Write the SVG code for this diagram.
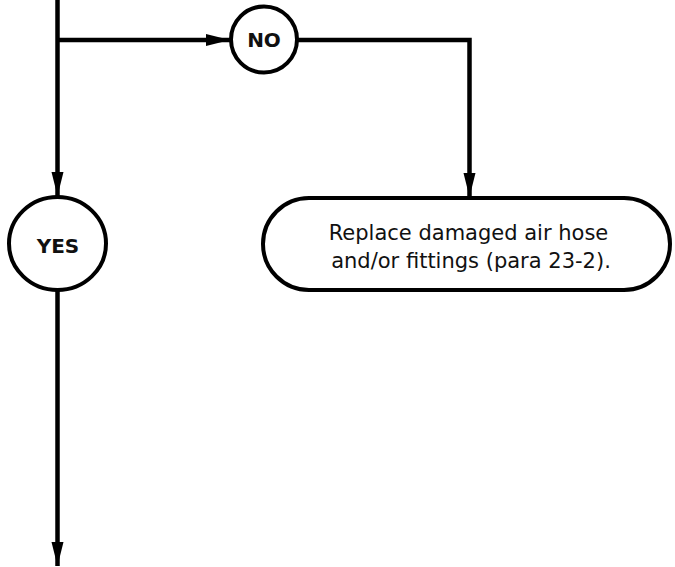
<svg xmlns="http://www.w3.org/2000/svg" width="675" height="567" viewBox="0 0 675 567">
  <style>
    .line { fill: none; stroke: #000; stroke-width: 4.5; }
    .shape { fill: #fff; stroke: #000; stroke-width: 4; }
    .label { font-family: "DejaVu Sans", Verdana, sans-serif; fill: #111; text-anchor: middle; }
    .bold { font-weight: bold; font-size: 20px; }
    .body { font-size: 21px; }
  </style>
  <defs>
    <marker id="arrow" markerUnits="userSpaceOnUse" markerWidth="25" markerHeight="13" refX="24" refY="6" orient="auto">
      <path d="M0,0 L24,6 L0,12 Z" fill="#000"/>
    </marker>
  </defs>
  <rect width="675" height="567" fill="#fff"/>

  <g id="connectors">
    <path class="line" d="M57.5,0 V196" marker-end="url(#arrow)"/>
    <path class="line" d="M57.5,40 H230" marker-end="url(#arrow)"/>
    <path class="line" d="M297,40 H469.5 V197" marker-end="url(#arrow)"/>
    <path class="line" d="M57.5,290 V566" marker-end="url(#arrow)"/>
  </g>

  <g id="no">
    <circle class="shape" cx="264" cy="39.5" r="33"/>
    <text class="label bold" x="264" y="47">NO</text>
  </g>

  <g id="yes">
    <ellipse class="shape" cx="57.5" cy="243.5" rx="48.5" ry="46.5"/>
    <text class="label bold" x="58" y="253">YES</text>
  </g>

  <g id="replace-hose">
    <rect class="shape" x="263" y="198" width="407" height="92" rx="46" ry="46"/>
    <text class="label body" x="468.5" y="240">Replace damaged air hose</text>
    <text class="label body" x="471" y="268">and/or fittings (para 23-2).</text>
  </g>
</svg>
